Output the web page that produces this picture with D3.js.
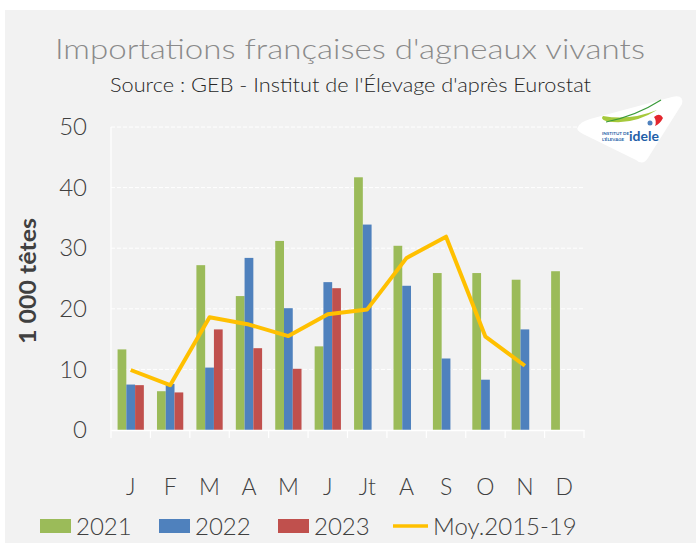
<!DOCTYPE html>
<html>
<head>
<meta charset="utf-8">
<script src="https://cdn.jsdelivr.net/npm/d3@7"></script>
<style>
  body { margin: 0; background: #fff; }
  svg { display: block; font-family: "Lato", "Noto Sans", sans-serif; }
</style>
</head>
<body>
<script>
var months = ["J", "F", "M", "A", "M", "J", "Jt", "A", "S", "O", "N", "D"];
var series = ["2021", "2022", "2023"];
var colors = ["#9bbb59", "#4f81bd", "#c0504d"];
var v2021 = [13.3, 6.4, 27.2, 22.1, 31.2, 13.8, 41.7, 30.4, 25.9, 25.9, 24.8, 26.2];
var v2022 = [7.5, 7.6, 10.3, 28.4, 20.1, 24.4, 33.9, 23.8, 11.8, 8.3, 16.6, null];
var v2023 = [7.4, 6.2, 16.6, 13.5, 10.1, 23.4, null, null, null, null, null, null];
var moy = [9.9, 7.4, 18.6, 17.4, 15.5, 19.1, 19.9, 28.4, 31.9, 15.4, 10.6, null];
var yTicks = [0, 10, 20, 30, 40, 50];

var width = 696, height = 543;
var margin = {left: 111, right: 112, top: 127, bottom: 113};

var svg = d3.select("body").append("svg")
    .attr("width", width)
    .attr("height", height);

// fond gris
svg.append("rect")
    .attr("x", 5).attr("y", 10)
    .attr("width", width - 5).attr("height", height - 10)
    .attr("fill", "#f2f2f2");

var x = d3.scaleBand()
    .domain(d3.range(months.length))
    .range([margin.left, width - margin.right]);

var xs = d3.scaleBand()
    .domain(series)
    .range([0, x.bandwidth()])
    .paddingOuter(0.75);

var y = d3.scaleLinear()
    .domain([0, 50])
    .range([height - margin.bottom, margin.top]);

// grille
svg.append("g").selectAll("line")
    .data(yTicks.slice(1))
    .enter().append("line")
    .attr("x1", margin.left).attr("x2", width - margin.right)
    .attr("y1", function(d){ return y(d); })
    .attr("y2", function(d){ return y(d); })
    .attr("stroke", "#ffffff")
    .attr("stroke-width", 1)
    .attr("stroke-dasharray", "4,2");

svg.append("line")
    .attr("x1", margin.left).attr("x2", margin.left)
    .attr("y1", y(50)).attr("y2", y(0))
    .attr("stroke", "#ffffff").attr("stroke-width", 1.2);

// barres
var allValues = [v2021, v2022, v2023];
allValues.forEach(function(vals, si){
  svg.append("g").selectAll("rect")
      .data(vals.map(function(v, i){ return {i: i, v: v}; }).filter(function(d){ return d.v != null; }))
      .enter().append("rect")
      .attr("x", function(d){ return x(d.i) + xs(series[si]); })
      .attr("width", xs.bandwidth())
      .attr("y", function(d){ return y(d.v); })
      .attr("height", function(d){ return y(0) - y(d.v); })
      .attr("fill", colors[si]);
});

// axe x
var xAxis = d3.axisBottom(x)
    .tickValues([])
    .tickSizeOuter(0);
var gx = svg.append("g")
    .attr("transform", "translate(0," + y(0) + ")")
    .call(xAxis);
gx.select(".domain").attr("stroke", "#ffffff").attr("stroke-width", 1.5);
gx.selectAll(".sep")
    .data(d3.range(months.length + 1))
    .enter().append("line")
    .attr("class", "sep")
    .attr("x1", function(i){ return margin.left + i * x.step(); })
    .attr("x2", function(i){ return margin.left + i * x.step(); })
    .attr("y1", 0).attr("y2", 8)
    .attr("stroke", "#ffffff").attr("stroke-width", 1.2);

svg.append("g").selectAll("text")
    .data(months)
    .enter().append("text")
    .attr("x", function(d, i){ return x(i) + x.bandwidth() / 2; })
    .attr("y", 495)
    .attr("text-anchor", "middle")
    .attr("font-size", 23)
    .attr("font-weight", 300)
    .attr("fill", "#404040")
    .text(function(d){ return d; });

// axe y
var yAxis = d3.axisLeft(y).tickValues(yTicks).tickSize(0).tickPadding(24);
var gy = svg.append("g")
    .attr("transform", "translate(" + margin.left + ",0)")
    .call(yAxis);
gy.select(".domain").remove();
gy.selectAll("text")
    .attr("font-size", 24)
    .attr("font-family", "Lato, sans-serif")
    .attr("font-weight", 300)
    .attr("fill", "#404040");

svg.append("text")
    .attr("transform", "translate(36,281) rotate(-90)")
    .attr("text-anchor", "middle")
    .attr("font-size", 23)
    .attr("font-weight", "bold")
    .attr("fill", "#404040")
    .attr("textLength", 126)
    .attr("lengthAdjust", "spacingAndGlyphs")
    .text("1 000 têtes");

// courbe moyenne
var line = d3.line()
    .defined(function(d){ return d != null; })
    .x(function(d, i){ return x(i) + x.bandwidth() / 2; })
    .y(function(d){ return y(d); });

svg.append("path")
    .attr("d", line(moy))
    .attr("fill", "none")
    .attr("stroke", "#ffc000")
    .attr("stroke-width", 4)
    .attr("stroke-linejoin", "round");

// titres
svg.append("text")
    .attr("x", 55).attr("y", 59)
    .attr("font-size", 27)
    .attr("font-weight", 300)
    .attr("fill", "#8a8a8a")
    .attr("textLength", 590)
    .attr("lengthAdjust", "spacingAndGlyphs")
    .text("Importations françaises d'agneaux vivants");

svg.append("text")
    .attr("x", 110).attr("y", 92)
    .attr("font-size", 19)
    .attr("font-weight", 300)
    .attr("fill", "#262626")
    .attr("textLength", 481)
    .attr("lengthAdjust", "spacingAndGlyphs")
    .text("Source : GEB - Institut de l'Élevage d'après Eurostat");

// légende
var legendItems = series.concat(["Moy.2015-19"]);
var leg = svg.append("g").selectAll("g")
    .data(legendItems)
    .enter().append("g")
    .attr("transform", function(d, i){ return "translate(" + (40 + i * 119) + ",0)"; });

leg.filter(function(d, i){ return i < 3; }).append("rect")
    .attr("x", 0).attr("y", 519)
    .attr("width", 31).attr("height", 14)
    .attr("fill", function(d, i){ return colors[i]; });

leg.filter(function(d, i){ return i === 3; }).append("line")
    .attr("x1", -4).attr("x2", 31)
    .attr("y1", 526).attr("y2", 526)
    .attr("stroke", "#ffc000").attr("stroke-width", 3.5);

leg.append("text")
    .attr("x", 36).attr("y", 535)
    .attr("font-size", 24)
    .attr("font-weight", 300)
    .attr("fill", "#404040")
    .text(function(d){ return d; });

// logo idele
var logo = svg.append("g");
logo.append("path")
    .attr("d", "M578,127 Q580,122 590,119 L672,97 Q684,94 682,104 L648,158 Q643,166 636,160 L583,134 Q575,130 578,127 Z")
    .attr("fill", "#ffffff");
logo.append("path")
    .attr("d", "M603,116 Q630,121 657,110 Q632,126 606,121 Q600,119 603,116 Z")
    .attr("fill", "#a6c93c");
logo.append("path")
    .attr("d", "M606,122 Q636,116 661,100")
    .attr("fill", "none").attr("stroke", "#3a9a3a").attr("stroke-width", 1.2);
logo.append("path")
    .attr("d", "M654,117 Q660,112 663,118 Q660,124 655,126 Q657,121 654,117 Z")
    .attr("fill", "#e3262d");
logo.append("circle")
    .attr("cx", 650).attr("cy", 123).attr("r", 2.5)
    .attr("fill", "#4f81bd");
logo.append("text")
    .attr("x", 602).attr("y", 135)
    .attr("font-size", 4.5).attr("font-weight", "bold")
    .attr("fill", "#1f5fa8")
    .text("INSTITUT DE");
logo.append("text")
    .attr("x", 602).attr("y", 141)
    .attr("font-size", 4.5).attr("font-weight", "bold")
    .attr("fill", "#1f5fa8")
    .text("L'ÉLEVAGE");
logo.append("text")
    .attr("x", 629).attr("y", 141)
    .attr("font-size", 14).attr("font-weight", "bold")
    .attr("fill", "#1f5fa8")
    .text("idele");
</script>
</body>
</html>
